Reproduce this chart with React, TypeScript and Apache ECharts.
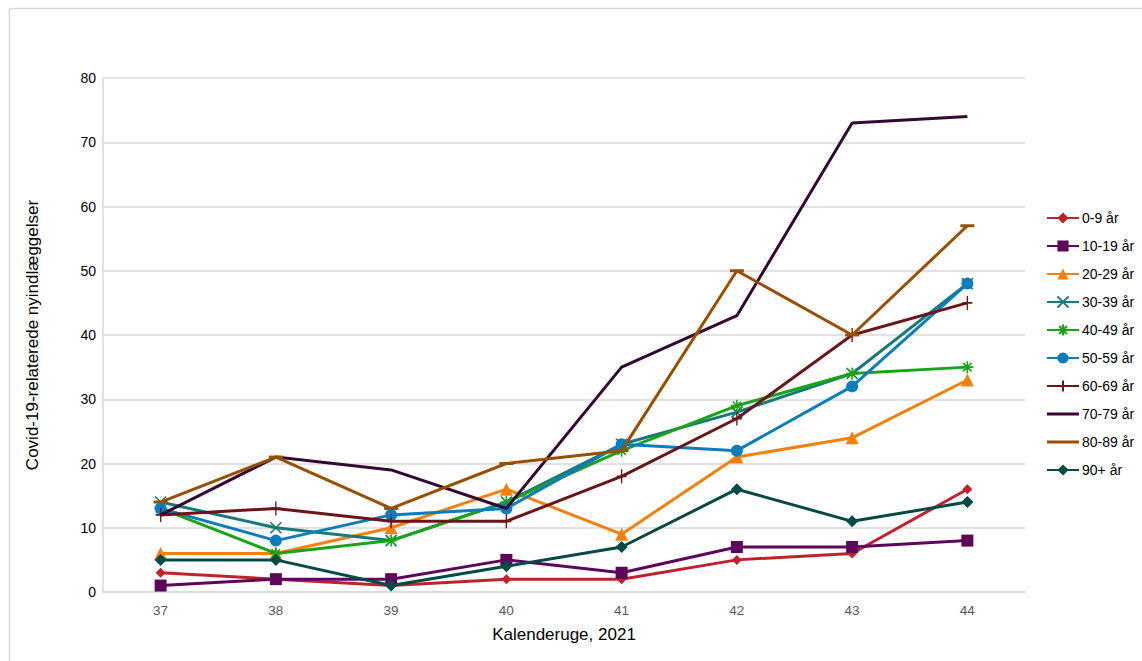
import React, { useEffect, useRef } from "react";
import * as echarts from "echarts";

const weeks = ["37", "38", "39", "40", "41", "42", "43", "44"];
const yTicks = [0, 10, 20, 30, 40, 50, 60, 70, 80];

const s0_9 = [3, 2, 1, 2, 2, 5, 6, 16];
const s10_19 = [1, 2, 2, 5, 3, 7, 7, 8];
const s20_29 = [6, 6, 10, 16, 9, 21, 24, 33];
const s30_39 = [14, 10, 8, 14, 23, 28, 34, 48];
const s40_49 = [13, 6, 8, 14, 22, 29, 34, 35];
const s50_59 = [13, 8, 12, 13, 23, 22, 32, 48];
const s60_69 = [12, 13, 11, 11, 18, 27, 40, 45];
const s70_79 = [12, 21, 19, 13, 35, 43, 73, 74];
const s80_89 = [14, 21, 13, 20, 22, 50, 40, 57];
const s90 = [5, 5, 1, 4, 7, 16, 11, 14];

const seriesNames = ["0-9 år", "10-19 år", "20-29 år", "30-39 år", "40-49 år", "50-59 år", "60-69 år", "70-79 år", "80-89 år", "90+ år"];
const seriesData = [s0_9, s10_19, s20_29, s30_39, s40_49, s50_59, s60_69, s70_79, s80_89, s90];
const colors = ["#c0222c", "#5c065c", "#f57f0f", "#17797a", "#17a517", "#0b7dbd", "#6c1519", "#330833", "#985000", "#024a46"];

const X_PATH = "path://M0,0L10,10M10,0L0,10";
const STAR_PATH = "path://M5,0L5,10M0,5L10,5M1.5,1.5L8.5,8.5M8.5,1.5L1.5,8.5";
const PLUS_PATH = "path://M5,0L5,14M0,7L10,7";
const LINE_ONLY_ICON = "path://M0,0L0.01,0L0.01,0.01ZM0,14L0.01,14L0.01,13.99ZM0,5.5L32,5.5L32,8.5L0,8.5Z";

const symbols: any[] = [
  { symbol: "diamond", size: 10, stroke: false, plainLegend: false },
  { symbol: "rect", size: 12, stroke: false, plainLegend: false },
  { symbol: "triangle", size: 13, stroke: false, plainLegend: false },
  { symbol: X_PATH, size: 11, stroke: true, plainLegend: false },
  { symbol: STAR_PATH, size: 12, stroke: true, plainLegend: false },
  { symbol: "circle", size: 12, stroke: false, plainLegend: false },
  { symbol: PLUS_PATH, size: [10, 14], stroke: true, plainLegend: false },
  { symbol: "none", size: 0, stroke: false, plainLegend: true },
  { symbol: "rect", size: [14, 3], stroke: false, plainLegend: true },
  { symbol: "diamond", size: 12, stroke: false, plainLegend: false },
];

const FONT = "Liberation Sans, Arial, sans-serif";

export default function App() {
  const ref = useRef<HTMLDivElement>(null);
  useEffect(() => {
    if (!ref.current) return;
    const chart = echarts.init(ref.current, undefined, { renderer: "svg" });
    chart.setOption({
      animation: false,
      backgroundColor: "#ffffff",
      textStyle: { fontFamily: FONT },
      graphic: [
        {
          type: "rect",
          shape: { x: 9.5, y: 8.5, width: 1200, height: 700 },
          style: { fill: "none", stroke: "#d9d9d9", lineWidth: 1.5 },
          silent: true,
        },
      ],
      grid: { left: 103, right: 117, top: 78, bottom: 69, containLabel: false },
      legend: {
        orient: "vertical",
        left: 1041,
        top: 206,
        itemWidth: 32,
        itemHeight: 14,
        itemGap: 14,
        textStyle: { fontSize: 14, color: "#000", fontFamily: FONT, padding: [0, 0, 0, -2] },
        data: seriesNames.map((name, i) =>
          symbols[i].plainLegend ? { name, icon: LINE_ONLY_ICON } : { name }
        ),
      },
      xAxis: {
        type: "category",
        data: weeks,
        boundaryGap: true,
        name: "Kalenderuge, 2021",
        nameLocation: "middle",
        nameGap: 34,
        nameTextStyle: { fontSize: 17, color: "#000", fontFamily: FONT },
        axisLine: { show: true, lineStyle: { color: "#d9d9d9", width: 1.5 } },
        axisTick: { show: false },
        axisLabel: { fontSize: 13.5, color: "#595959", margin: 11, fontFamily: FONT },
        splitLine: { show: false },
      },
      yAxis: {
        type: "value",
        min: yTicks[0],
        max: yTicks[yTicks.length - 1],
        interval: 10,
        name: "Covid-19-relaterede nyindlæggelser",
        nameLocation: "middle",
        nameGap: 62,
        nameTextStyle: { fontSize: 17, color: "#000", fontFamily: FONT },
        axisLine: { show: true, lineStyle: { color: "#d9d9d9", width: 1.5 } },
        axisTick: { show: false },
        axisLabel: { fontSize: 14, color: "#000", margin: 7, fontFamily: FONT },
        splitLine: { show: true, lineStyle: { color: "#d9d9d9", width: 1.5 } },
      },
      series: seriesNames.map((name, i) => ({
        name,
        type: "line",
        data: seriesData[i],
        symbol: symbols[i].symbol,
        symbolSize: symbols[i].size,
        showSymbol: symbols[i].symbol !== "none",
        lineStyle: { color: colors[i], width: 3 },
        itemStyle: symbols[i].stroke
          ? { color: colors[i], borderColor: colors[i], borderWidth: 1.6 }
          : { color: colors[i], borderWidth: 0 },
        emphasis: { disabled: true },
        z: 2 + i,
      })),
    });
    return () => chart.dispose();
  }, []);
  return (
    <div
      ref={ref}
      style={{ position: "absolute", left: 0, top: 0, width: 1142, height: 661 }}
    />
  );
}
